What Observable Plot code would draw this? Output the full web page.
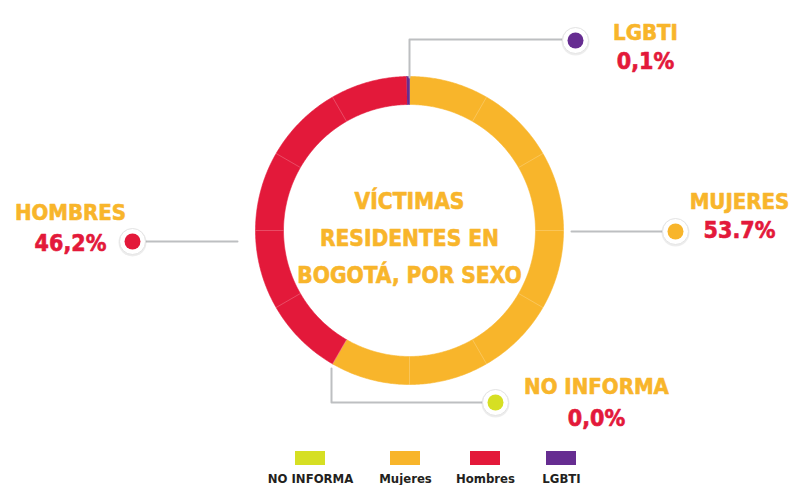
<!DOCTYPE html>
<html>
<head>
<meta charset="utf-8">
<script src="https://cdn.jsdelivr.net/npm/d3@7"></script>
<script src="https://cdn.jsdelivr.net/npm/@observablehq/plot@0.6"></script>
<style>
  html, body { margin: 0; padding: 0; background: #fff; }
  #chart svg { display: block; }
  #chart svg text { font-stretch: condensed; }
</style>
</head>
<body>
<div id="chart"></div>
<script>
// ---------- DATA ----------
const categories    = ["NO INFORMA", "Mujeres", "Hombres", "LGBTI"];
const calloutNames  = ["NO INFORMA", "MUJERES", "HOMBRES", "LGBTI"];
const percentLabels = ["0,0%", "53.7%", "46,2%", "0,1%"];
// share of the ring as drawn in the picture (percent of the full circle)
const arcShares     = [0, 58.3, 41.4, 0.3];
const colors        = ["#D6DF23", "#F8B52B", "#E3193A", "#662D91"];
const centerTitle   = ["VÍCTIMAS", "RESIDENTES EN", "BOGOTÁ, POR SEXO"];
const ringOrder     = ["Mujeres", "Hombres", "LGBTI", "NO INFORMA"]; // clockwise from 12 o'clock

// ---------- LAYOUT ----------
const W = 794, H = 485;
const cx = 409, cy = 230, rOuter = 154, rInner = 126;
const FONT = "'DejaVu Sans Condensed', 'DejaVu Sans', sans-serif";
const YEL = "#F8B52B", RED = "#E3193A";

const callouts = {
  "LGBTI":      {path: [[409, 77], [409, 39], [575, 39]], dot: [575, 40], tx: 645, b1: 39,  b2: 68},
  "Mujeres":    {path: [[571, 231], [675, 231]],          dot: [675, 231], tx: 739, b1: 208, b2: 237},
  "Hombres":    {path: [[237, 241], [132, 241]],          dot: [132, 241], tx: 70,  b1: 219, b2: 250},
  "NO INFORMA": {path: [[331, 368], [331, 402], [495, 402]], dot: [495, 402], tx: 596, b1: 393, b2: 425}
};
const legendCenters = [310, 405, 485, 561];

// ---------- BUILD ----------
const rows = categories.map((c, i) => ({
  cat: c, name: calloutNames[i], pct: percentLabels[i], share: arcShares[i], color: colors[i]
}));
const ringRows = ringOrder.map(c => rows.find(r => r.cat === c));
const arcs = d3.pie().sort(null).value(d => d.share)(ringRows);

const pt = (r, a) => [cx + r * Math.sin(a), cy - r * Math.cos(a)];
const ringMarks = [];
for (const a of arcs) {
  if (a.endAngle - a.startAngle <= 0) continue;
  const n = Math.max(2, Math.ceil((a.endAngle - a.startAngle) / (Math.PI / 360)));
  const poly = [];
  for (let k = 0; k <= n; k++) {
    const t = a.startAngle + (a.endAngle - a.startAngle) * k / n;
    const [x, y] = pt(rOuter, t); poly.push({x, y});
  }
  for (let k = n; k >= 0; k--) {
    const t = a.startAngle + (a.endAngle - a.startAngle) * k / n;
    const [x, y] = pt(rInner, t); poly.push({x, y});
  }
  ringMarks.push(Plot.line(poly, {x: "x", y: "y", fill: a.data.color, stroke: a.data.color, strokeWidth: 0.6, curve: "linear"}));
}

// faint segment separators every 30°
const seps = d3.range(1, 12).map(i => {
  const t = i * Math.PI / 6;
  const [x1, y1] = pt(rInner, t), [x2, y2] = pt(rOuter, t);
  return {x1, y1, x2, y2};
});

const leader = [];
rows.forEach(r => callouts[r.cat].path.forEach(([x, y]) => leader.push({cat: r.cat, x, y})));
const dots = rows.map(r => ({...r, x: callouts[r.cat].dot[0], y: callouts[r.cat].dot[1]}));
const names = rows.map(r => ({text: r.name, x: callouts[r.cat].tx, y: callouts[r.cat].b1}));
const pcts  = rows.map(r => ({text: r.pct,  x: callouts[r.cat].tx, y: callouts[r.cat].b2}));
const title = centerTitle.map((t, i) => ({text: t, x: cx, y: cy + 15 + (i - 1) * 37}));
const legend = rows.map((r, i) => ({text: r.cat, color: r.color, x: legendCenters[i]}));

const heavy = (color, size) => ({fill: color, stroke: color, strokeWidth: 0.6, fontFamily: FONT, fontWeight: "bold", fontSize: size, textAnchor: "middle", lineAnchor: "bottom"});

const chart = Plot.plot({
  width: W, height: H, margin: 0,
  x: {domain: [0, W], range: [0, W], axis: null},
  y: {domain: [0, H], range: [0, H], axis: null},
  style: {background: "#fff"},
  marks: [
    ...ringMarks,
    Plot.link(seps, {x1: "x1", y1: "y1", x2: "x2", y2: "y2", stroke: "#fff", strokeOpacity: 0.22, strokeWidth: 1}),
    Plot.line(leader, {x: "x", y: "y", z: "cat", stroke: "#BDBFC1", strokeWidth: 2, curve: "linear"}),
    Plot.dot(dots, {x: "x", y: "y", r: 14, dy: 1, fill: "#000", fillOpacity: 0.07, stroke: "none"}),
    Plot.dot(dots, {x: "x", y: "y", r: 13, fill: "#fff", stroke: "#E4E4E4", strokeWidth: 1}),
    Plot.dot(dots, {x: "x", y: "y", r: 8, fill: d => d.color, stroke: "none"}),
    Plot.text(names, {x: "x", y: "y", text: "text", ...heavy(YEL, 22)}),
    Plot.text(pcts, {x: "x", y: "y", text: "text", ...heavy(RED, 23)}),
    Plot.text(title, {x: "x", y: "y", text: "text", ...heavy(YEL, 22.5)}),
    Plot.rect(legend, {x1: d => d.x - 15, x2: d => d.x + 15, y1: 451, y2: 465, fill: d => d.color}),
    Plot.text(legend, {x: "x", y: 482, text: "text", fill: "#231F20", fontFamily: FONT, fontWeight: "bold", fontSize: 13, textAnchor: "middle", lineAnchor: "bottom"})
  ]
});
document.getElementById("chart").appendChild(chart);
</script>
</body>
</html>
